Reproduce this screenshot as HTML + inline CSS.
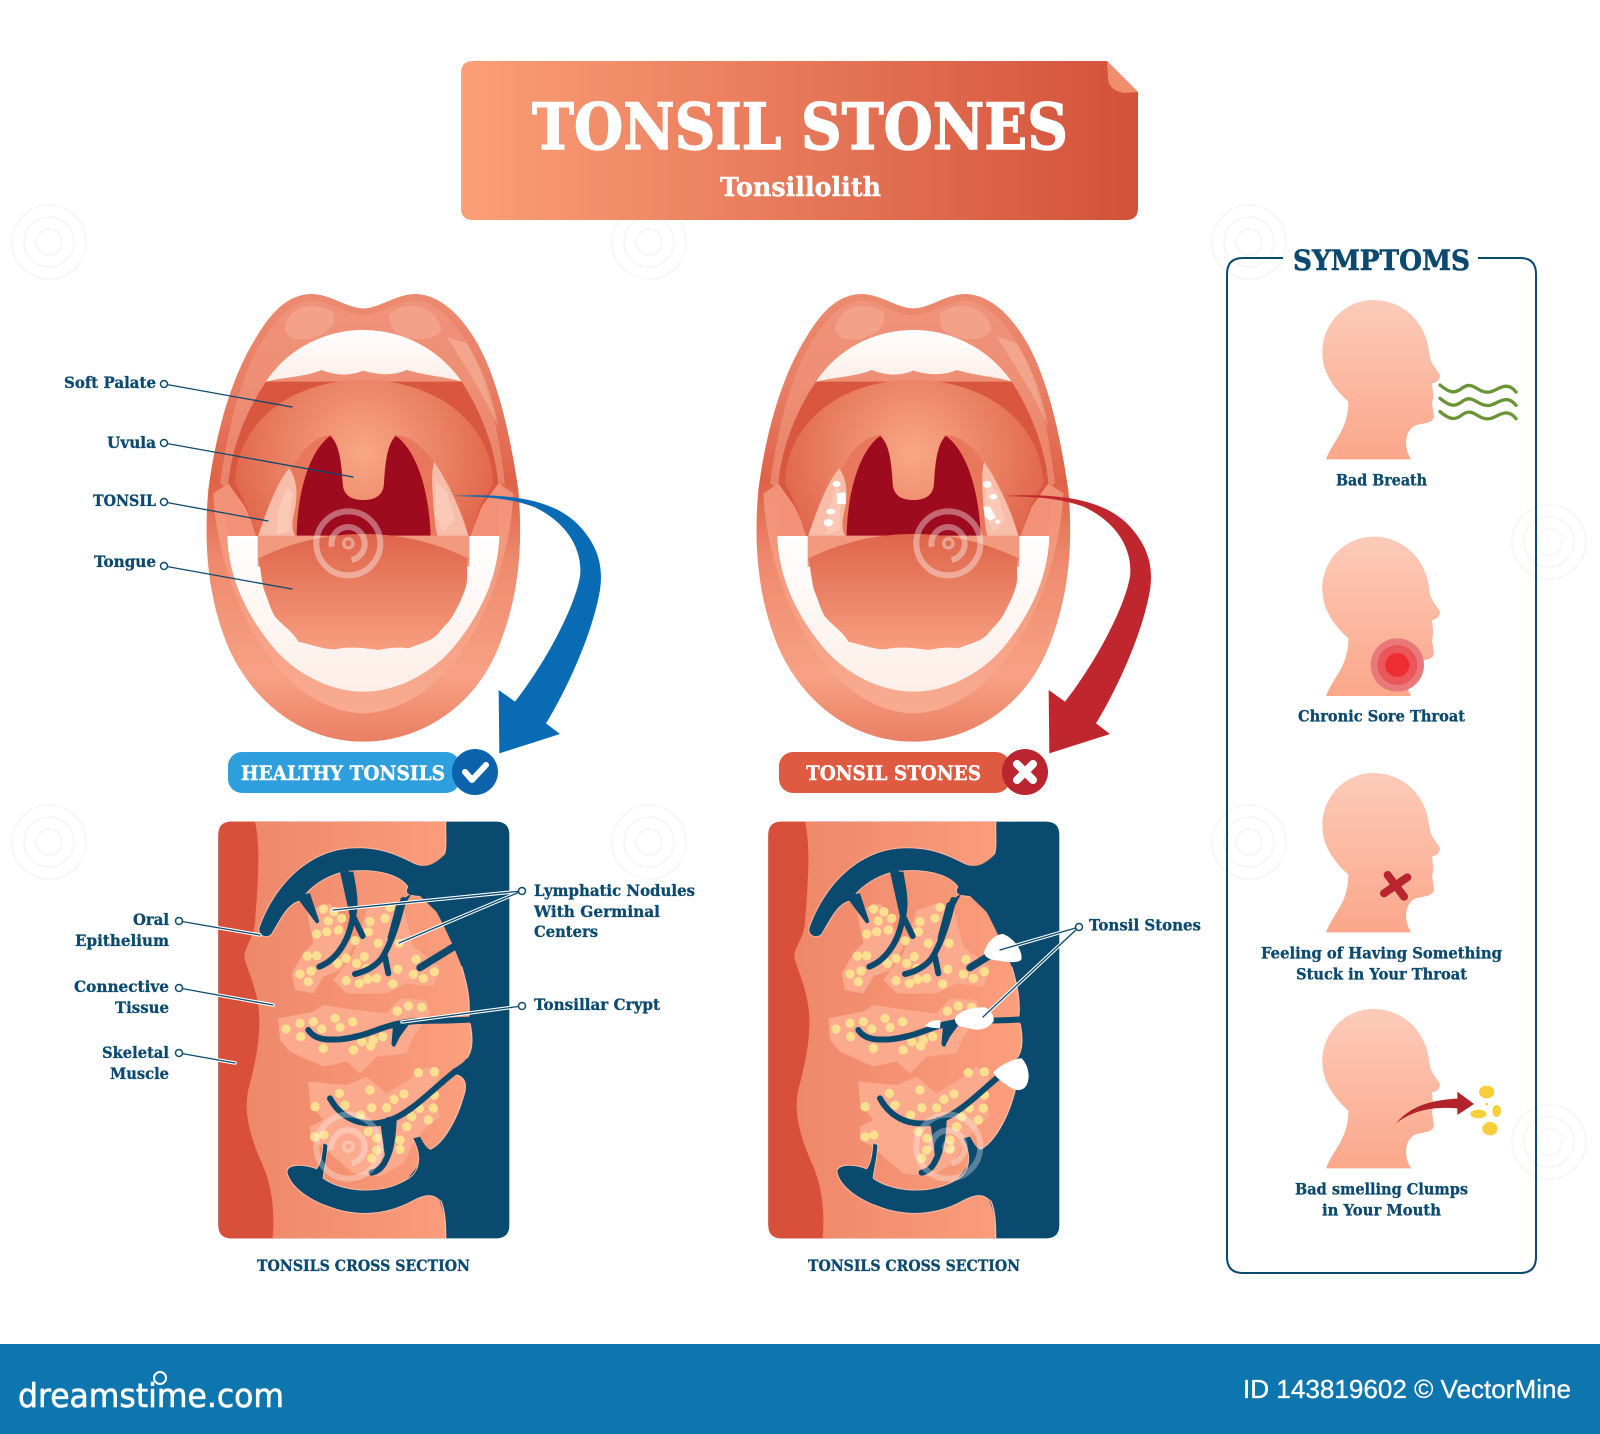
<!DOCTYPE html>
<html><head><meta charset="utf-8"><title>Tonsil Stones</title>
<style>html,body{margin:0;padding:0;background:#fff}svg{display:block}
text{font-family:"DejaVu Serif","Liberation Serif",serif;font-weight:700;fill:#0b4a6e}
.l{font-size:15.5px;stroke:#0b4a6e;stroke-width:.3px}</style></head><body>
<svg xmlns="http://www.w3.org/2000/svg" xmlns:xlink="http://www.w3.org/1999/xlink" width="1600" height="1434" viewBox="0 0 1600 1434">
<defs>
<linearGradient id="ban" x1="0" x2="1" y1="0" y2="0"><stop offset="0" stop-color="#fb9f78"/><stop offset="1" stop-color="#d2513a"/></linearGradient>
<linearGradient id="lip" x1="0" x2="0" y1="0" y2="1"><stop offset="0" stop-color="#ec8a70"/><stop offset=".2" stop-color="#e87f65"/><stop offset=".42" stop-color="#df6248"/><stop offset=".6" stop-color="#ee8a6e"/><stop offset=".85" stop-color="#f8a184"/><stop offset="1" stop-color="#e97f64"/></linearGradient>
<linearGradient id="lowlip" x1="0" x2="0" y1="0" y2="1"><stop offset="0" stop-color="#f09176"/><stop offset="1" stop-color="#f9ab90"/></linearGradient>
<radialGradient id="pal" gradientUnits="userSpaceOnUse" cx="520" cy="520" r="400"><stop offset="0" stop-color="#f8a886"/><stop offset="1" stop-color="#e1674c"/></radialGradient>
<linearGradient id="ton" x1="0" x2="0" y1="0" y2="1"><stop offset="0" stop-color="#de654b"/><stop offset="1" stop-color="#f79e7e"/></linearGradient>
<linearGradient id="tis" x1="0" x2="1" y1="0" y2="0"><stop offset="0" stop-color="#ec8567"/><stop offset="1" stop-color="#fb9f7d"/></linearGradient>
<linearGradient id="hd" x1="0" x2="0" y1="0" y2="1"><stop offset="0" stop-color="#fccbb9"/><stop offset="1" stop-color="#fba78a"/></linearGradient>
<linearGradient id="tth" x1="0" x2="0" y1="0" y2="1"><stop offset="0" stop-color="#fff"/><stop offset="1" stop-color="#fdeee8"/></linearGradient>

<g id="mouth">
<path fill="url(#lip)" d="M520 85C570 85 620 40 680 42C740 45 800 90 850 170C920 280 960 460 985 630C1000 800 985 950 930 1090C860 1280 690 1385 520 1385C350 1385 190 1280 110 1090C55 950 40 800 55 630C80 440 130 280 200 170C250 85 300 45 360 42C420 40 470 85 520 85Z"/>
<path fill="#f19a80" opacity=".6" d="M520 105C570 105 620 62 680 62C730 65 780 110 820 170C885 270 925 440 945 610L900 640L130 640L90 610C115 440 155 270 225 170C265 110 310 65 360 62C420 62 470 105 520 105Z"/>
<path fill="#f5ad95" opacity=".6" d="M285 150C290 90 350 55 430 95C440 130 420 155 380 170C340 185 300 185 285 150Z"/>
<path fill="#f5ad95" opacity=".6" d="M600 100C660 55 740 80 755 150C730 185 680 180 640 170C610 160 595 130 600 100Z"/>
<path fill="#f7b9a3" opacity=".5" d="M770 170L830 190C875 260 905 340 925 440C880 340 820 250 770 170Z"/>
<path fill="url(#lowlip)" d="M70 640C80 900 240 1290 520 1300C800 1290 960 900 970 640L925 610L115 610Z"/>
<path fill="#d9573f" d="M228 305H815C870 390 915 500 925 610L900 700L860 770H200L150 700L115 610C125 500 170 390 228 305Z"/>
<path fill="#f29078" d="M115 610L165 680L205 770H112Z"/>
<path fill="#f29078" d="M925 610L875 680L840 770H928Z"/>
<path fill="url(#pal)" d="M135 610C140 430 300 300 520 300C740 300 905 430 910 610L870 680L840 775H200L170 680Z"/>
<path fill="#e8775b" d="M205 775C240 680 270 600 310 560C340 500 385 465 425 465L430 480C350 520 320 660 320 775Z"/>
<path fill="#e8775b" d="M835 775C810 700 780 620 730 545C700 500 660 465 612 465L610 480C690 520 720 660 722 775Z"/>
<path fill="#f8bda9" d="M203 772C230 690 265 600 298 565C322 600 322 640 316 680C308 720 300 745 320 775Z"/>
<path fill="#f8bda9" d="M837 775C815 690 770 600 732 545C722 590 728 630 730 680C735 720 735 750 745 775Z"/>
<path fill="#fcd3c5" opacity=".55" d="M265 690L290 620L310 640L298 700L300 750L260 765Z M738 600L772 640L795 720L760 755L735 700Z"/>
<path fill="#9e0a1e" d="M320 775C320 660 350 520 420 468C450 490 455 560 458 610C460 650 490 660 520 660C550 660 580 650 582 610C585 560 590 490 618 468C690 520 720 660 722 775Z"/>
<path fill="url(#tth)" d="M112 768H205L840 768H928C925 880 880 990 800 1090C730 1180 620 1235 520 1235C420 1235 310 1180 240 1090C160 990 115 880 112 768Z"/>
<path fill="#f19a7f" d="M203 767H838V860H203Z"/>
<path fill="url(#ton)" d="M205 835C300 790 400 762 520 762C640 762 740 790 835 835C825 870 838 890 826 925C815 960 800 985 790 1005C775 1030 760 1040 745 1060C725 1085 690 1090 655 1105C620 1100 590 1105 565 1110C530 1105 490 1100 450 1105C415 1115 370 1095 325 1085C305 1050 280 1040 255 1010C240 985 235 960 222 930C212 890 212 860 205 835Z"/>
<path fill="url(#tth)" d="M228 305C290 210 400 150 520 150C640 150 750 210 815 305C770 290 720 290 650 270C610 288 560 285 520 272C480 288 440 288 395 270C350 290 290 290 228 305Z"/>
</g>

<path id="arrow" d="M790 648C930 640 1090 650 1170 740C1225 800 1240 860 1230 930C1208 1060 1130 1230 1068 1330L1110 1362L928 1420L926 1230L975 1265C1050 1170 1150 1000 1170 890C1180 800 1120 720 1030 680C950 650 860 650 790 648Z"/>

<g id="sect">
<path fill="#0b4a6f" d="M95 35H888Q928 35 928 75V1245Q928 1285 888 1285H95Q55 1285 55 1245V75Q55 35 95 35Z"/>
<path fill="url(#tis)" d="M95 35H737C735 90 745 130 720 155L660 220C700 280 760 400 785 470C800 520 812 570 806 622L810 640C818 680 820 720 800 745C790 760 770 770 755 780L770 795C800 805 800 830 790 860C770 930 730 1000 690 1018L660 1060L620 1110L680 1140C715 1150 737 1190 737 1285H95Q55 1285 55 1245V75Q55 35 95 35Z"/>
<path fill="none" stroke="#fbb9a2" stroke-width="4" d="M737 35C735 90 745 130 720 155M785 470C800 520 812 570 806 622M810 640C818 680 820 720 800 745M770 795C800 805 800 830 790 860C770 930 730 1000 690 1018M722 1172C735 1200 737 1240 737 1285"/>
<g fill="#fbaa8e">
<path d="M320 300L390 280L420 320L440 380L460 410L420 480L370 500L340 550L285 540L275 490L310 430L340 400Z"/>
<path d="M460 430L500 300L560 280L610 290L640 410L720 470L700 530L620 520L560 550L440 550L400 510Z"/>
<path d="M235 625L340 605L370 585L470 600L560 610L600 565L680 570L690 610L640 680L620 730L530 740L480 790L440 755L370 770L270 725L240 690Z"/>
<path d="M325 815L440 825L500 800L560 850L640 800L680 770L720 790L700 860L720 920L680 950L640 1000L610 1060L540 1100L460 1090L400 1040L370 1010L330 990L330 950L370 930L330 880Z"/>
</g>
<path fill="#d9503a" d="M95 35H165C185 120 170 260 165 340C160 390 125 420 135 450C150 500 180 560 178 640C178 700 165 760 150 820C125 900 150 980 190 1070C215 1130 225 1200 218 1285H95Q55 1285 55 1245V75Q55 35 95 35Z"/>
<path fill="none" stroke="#fde08f" stroke-width="28" stroke-linecap="round" d="M370 297h.1M402 305h.1M425 325h.1M385 333h.1M415 360h.1M380 365h.1M350 372h.1M465 392h.1M510 335h.1M505 365h.1M555 325h.1M570 292h.1M535 400h.1M597 400h.1M322 438h.1M350 437h.1M300 492h.1M333 483h.1M325 515h.1M412 460h.1M438 445h.1M493 440h.1M470 460h.1M500 475h.1M438 512h.1M478 520h.1M503 508h.1M530 505h.1M578 522h.1M593 478h.1M648 448h.1M640 493h.1M670 505h.1M703 485h.1M258 657h.1M300 640h.1M340 635h.1M302 680h.1M365 657h.1M405 625h.1M420 652h.1M458 635h.1M370 715h.1M460 720h.1M485 695h.1M512 708h.1M548 680h.1M520 690h.1M592 603h.1M625 588h.1M665 592h.1M655 788h.1M703 785h.1M510 840h.1M418 850h.1M345 890h.1M435 885h.1M515 893h.1M560 893h.1M582 868h.1M612 852h.1M703 855h.1M658 895h.1M700 895h.1M635 920h.1M685 930h.1M620 950h.1M482 915h.1M600 990h.1M600 1018h.1M345 980h.1M372 975h.1M505 965h.1M530 985h.1M530 1020h.1M515 1045h.1"/>
<path fill="none" stroke="#fbb9a2" stroke-width="6" d="M720 155C700 175 670 175 640 160C590 135 540 112 460 115C340 118 230 210 178 355C175 380 205 385 215 370C240 330 260 280 300 272C340 210 420 180 455 182C520 175 600 190 625 230C612 255 630 255 660 258"/>
<path fill="none" stroke="#fbb9a2" stroke-width="6" d="M640 985C670 1040 660 1090 620 1110C540 1160 420 1145 368 1105C370 1080 380 1050 382 1005L370 1000C368 1030 365 1060 350 1078C320 1065 265 1060 262 1085C270 1130 330 1170 390 1190C470 1220 560 1215 640 1170C680 1150 700 1150 722 1172"/>
<g fill="#0b4a6f">
<path d="M178 355C230 210 340 118 460 115C540 112 590 135 640 160C670 175 700 170 737 130V330L730 325L660 258C630 255 612 255 625 230C600 190 520 175 455 182C420 180 340 210 300 272C260 280 240 330 215 370C205 385 175 380 178 355Z"/>
<path d="M262 1085C265 1060 320 1065 350 1078C365 1060 368 1030 370 1000L382 1005C380 1050 370 1080 368 1105C420 1145 540 1160 620 1110C660 1090 670 1040 640 985L660 980C670 1000 680 1015 692 1020L800 1000V1100L722 1172C700 1150 680 1150 640 1170C560 1215 470 1220 390 1190C330 1170 270 1130 262 1085Z"/>
<path d="M285 255L330 250L358 335Q350 345 345 335Z"/>
<path d="M420 185L460 185C470 240 478 280 468 320L450 320Z"/>
<path d="M590 280L635 250C610 290 590 340 580 390L562 385Z"/>
<path d="M580 635L640 625L600 680L585 710Q572 710 575 695Z"/>
<path d="M540 930L590 915C590 960 585 1000 575 1030L555 1040Z"/>
</g>
<g fill="none" stroke="#0b4a6f" stroke-linecap="round" stroke-linejoin="round" stroke-width="18">
<path d="M440 190C455 240 465 280 460 310C450 390 410 450 358 470"/>
<path d="M460 320L488 378"/>
<path d="M610 270C595 330 575 400 545 445C525 470 495 485 465 492"/>
<path d="M555 440L565 490"/>
<path d="M770 405L660 473" stroke-width="22"/>
<path d="M815 628C720 635 650 628 600 640C540 650 500 680 420 688C380 690 345 690 325 660"/>
<path d="M765 785C720 820 680 860 640 890C600 920 570 935 530 940C470 945 420 920 390 865"/>
<path d="M565 930C585 960 575 1020 555 1055C545 1075 530 1085 515 1088"/>
</g>
</g>

<g id="head"><path fill="url(#hd)" d="M318 658C340 600 385 570 385 485C335 440 306 390 307 335C308 250 375 180 460 180C545 180 610 240 625 320C628 345 630 360 640 375L660 405C660 420 650 428 636 430L640 470L636 490L642 530C640 548 615 550 590 555C560 565 545 610 573 658Z"/></g>
<g id="sp" fill="none" stroke="#fff"><circle r="96" stroke-width="18"/><path stroke-width="18" d="M-50 10A50 50 0 1 1 10 50"/><circle r="14" stroke-width="10"/></g>
<g id="fsp" fill="none" stroke="#f5f5f5" stroke-width="1.5"><circle r="37"/><circle r="25"/><circle r="13"/></g>
</defs>

<rect width="1600" height="1434" fill="#fff"/>
<g><use xlink:href="#fsp" x="49" y="242"/><use xlink:href="#fsp" x="649" y="242"/><use xlink:href="#fsp" x="1249" y="242"/><use xlink:href="#fsp" x="49" y="842"/><use xlink:href="#fsp" x="649" y="842"/><use xlink:href="#fsp" x="1249" y="842"/><use xlink:href="#fsp" x="1549" y="542"/><use xlink:href="#fsp" x="1549" y="1142"/></g>

<!-- banner -->
<path fill="url(#ban)" d="M473 61H1107L1138 92V208Q1138 220 1126 220H473Q461 220 461 208V73Q461 61 473 61Z"/>
<path fill="#f08d6d" d="M1107 61L1138 92L1124 93Q1108 90 1108 78Z"/>
<text x="532" y="149" font-size="64" style="fill:#fff;stroke:#fff;stroke-width:1.4px" textLength="536" lengthAdjust="spacingAndGlyphs">TONSIL STONES</text>
<text x="720" y="196" font-size="26" style="fill:#fff;stroke:#fff;stroke-width:.4px" textLength="161" lengthAdjust="spacingAndGlyphs">Tonsillolith</text>

<!-- mouths -->
<g transform="translate(190 280) scale(.33333)"><use xlink:href="#mouth"/><use xlink:href="#sp" x="475" y="790" opacity=".38"/><use xlink:href="#arrow" fill="#0a6bb5"/></g>
<g transform="translate(740 280) scale(.33333)"><use xlink:href="#mouth"/>
<g fill="#fff"><ellipse cx="290" cy="612" rx="12" ry="9"/><path d="M290 640L316 637L318 672L292 672Z"/><ellipse cx="272" cy="695" rx="14" ry="8"/><ellipse cx="265" cy="728" rx="14" ry="11"/><ellipse cx="742" cy="613" rx="13" ry="10"/><ellipse cx="760" cy="650" rx="12" ry="8"/><path d="M730 680L750 680L768 712L752 722L735 712Z"/><ellipse cx="773" cy="725" rx="7" ry="6"/></g>
<use xlink:href="#sp" x="625" y="790" opacity=".38"/><use xlink:href="#arrow" fill="#c0262e"/></g>

<!-- badges -->
<rect x="228" y="752" width="232" height="41" rx="14" fill="#2e9fdc"/>
<circle cx="475" cy="772" r="23" fill="#0c62ab"/>
<path d="M465 772L472 780L486 765" fill="none" stroke="#fff" stroke-width="6" stroke-linecap="round" stroke-linejoin="round"/>
<text x="241" y="780" font-size="20" style="fill:#fff;stroke:#fff;stroke-width:.4px" textLength="204" lengthAdjust="spacingAndGlyphs">HEALTHY TONSILS</text>
<rect x="779" y="752" width="231" height="41" rx="14" fill="#de5a40"/>
<circle cx="1025" cy="772" r="23" fill="#bb2530"/>
<path d="M1017 764L1033 780M1033 764L1017 780" fill="none" stroke="#fff" stroke-width="8" stroke-linecap="round"/>
<text x="806" y="780" font-size="20" style="fill:#fff;stroke:#fff;stroke-width:.4px" textLength="175" lengthAdjust="spacingAndGlyphs">TONSIL STONES</text>

<!-- sections -->
<g transform="translate(200 810) scale(.33333)"><use xlink:href="#sect"/><use xlink:href="#sp" x="445" y="1010" opacity=".3"/></g>
<g transform="translate(750 810) scale(.33333)"><use xlink:href="#sect"/>
<g fill="#fff"><path d="M702 428C710 395 740 370 760 372C790 385 815 415 815 445C812 460 780 458 745 452C725 450 705 445 702 428Z"/><path d="M615 625C625 600 680 590 705 592C725 600 735 625 730 635C715 655 690 665 660 655C635 650 615 650 615 625Z"/><path d="M525 648C535 635 555 628 572 632L570 655C555 655 535 652 525 648Z"/><path d="M730 788C750 765 790 745 815 745C835 765 842 800 830 825C815 850 790 840 770 825C755 815 735 800 730 788Z"/></g>
<use xlink:href="#sp" x="595" y="1010" opacity=".3"/></g>

<!-- leaders -->
<g fill="none" stroke-linecap="round">
<g stroke="#fff" stroke-width="3.5">
<path d="M179 921L260 935M179 988L273 1005M179 1053L235 1063"/>
<path d="M522 891L333 910M522 891L399 943M522 1006L402 1022"/>
<path d="M1079 927L1000 950M1079 927L983 1017"/>
</g>
<g stroke="#0b4a6e" stroke-width="1.3">
<path d="M164 384L292 407M164 443L353 477M164 502L268 521M164 566L292 589"/>
<path d="M179 921L260 935M179 988L273 1005M179 1053L235 1063"/>
<path d="M522 891L333 910M522 891L399 943M522 1006L402 1022"/>
<path d="M1079 927L1000 950M1079 927L983 1017"/>
</g>
<g fill="#fff" stroke="#0b4a6e" stroke-width="1.5">
<circle cx="164" cy="384" r="3.5"/><circle cx="164" cy="443" r="3.5"/><circle cx="164" cy="502" r="3.5"/><circle cx="164" cy="566" r="3.5"/>
<circle cx="179" cy="921" r="3.5"/><circle cx="179" cy="988" r="3.5"/><circle cx="179" cy="1053" r="3.5"/>
<circle cx="522" cy="891" r="3.5"/><circle cx="522" cy="1006" r="3.5"/><circle cx="1079" cy="927" r="3.5"/>
</g></g>

<!-- labels -->
<g transform="translate(0 -.8)">
<text class="l" x="64" y="389" textLength="92" lengthAdjust="spacingAndGlyphs">Soft Palate</text>
<text class="l" x="107" y="449" textLength="49" lengthAdjust="spacingAndGlyphs">Uvula</text>
<text class="l" x="93" y="507" textLength="63" lengthAdjust="spacingAndGlyphs">TONSIL</text>
<text class="l" x="94" y="568" textLength="62" lengthAdjust="spacingAndGlyphs">Tongue</text>
<text class="l" x="133" y="926" textLength="36" lengthAdjust="spacingAndGlyphs">Oral</text>
<text class="l" x="75" y="947" textLength="94" lengthAdjust="spacingAndGlyphs">Epithelium</text>
<text class="l" x="74" y="993" textLength="95" lengthAdjust="spacingAndGlyphs">Connective</text>
<text class="l" x="115" y="1014" textLength="54" lengthAdjust="spacingAndGlyphs">Tissue</text>
<text class="l" x="102" y="1059" textLength="67" lengthAdjust="spacingAndGlyphs">Skeletal</text>
<text class="l" x="110" y="1080" textLength="59" lengthAdjust="spacingAndGlyphs">Muscle</text>
<text class="l" x="534" y="897" textLength="161" lengthAdjust="spacingAndGlyphs">Lymphatic Nodules</text>
<text class="l" x="534" y="918" textLength="126" lengthAdjust="spacingAndGlyphs">With Germinal</text>
<text class="l" x="534" y="938" textLength="64" lengthAdjust="spacingAndGlyphs">Centers</text>
<text class="l" x="534" y="1011" textLength="126" lengthAdjust="spacingAndGlyphs">Tonsillar Crypt</text>
<text class="l" x="1089" y="931.5" textLength="112" lengthAdjust="spacingAndGlyphs">Tonsil Stones</text>
<text class="l" x="257" y="1272" textLength="213" lengthAdjust="spacingAndGlyphs">TONSILS CROSS SECTION</text>
<text class="l" x="808" y="1272" textLength="212" lengthAdjust="spacingAndGlyphs">TONSILS CROSS SECTION</text>
</g>

<!-- symptoms -->
<path fill="none" stroke="#0b4a6e" stroke-width="2" d="M1283 258H1243Q1227 258 1227 274V1257Q1227 1273 1243 1273H1520Q1536 1273 1536 1257V274Q1536 258 1520 258H1478"/>
<text x="1293" y="270" font-size="28" style="stroke:#0b4a6e;stroke-width:.6px" textLength="177" lengthAdjust="spacingAndGlyphs">SYMPTOMS</text>
<g transform="translate(1220 240) scale(.33333)">
<use xlink:href="#head"/><use xlink:href="#head" y="710"/><use xlink:href="#head" y="1419"/><use xlink:href="#head" y="2127"/>
<g fill="none" stroke="#6a9436" stroke-width="10" stroke-linecap="round"><path d="M660 435C690 460 705 462 730 442C760 422 775 462 810 456C835 450 860 420 888 456"/><path d="M660 475C690 500 705 502 730 482C760 462 775 502 810 496C835 490 860 460 888 496"/><path d="M660 515C690 540 705 542 730 522C760 502 775 542 810 536C835 530 860 500 888 536"/></g>
<circle cx="532" cy="1275" r="80" fill="#e8787a"/><circle cx="532" cy="1275" r="60" fill="#ea565a"/><circle cx="532" cy="1275" r="36" fill="#ee2d33"/>
<path d="M503 345L552 410M562 352L492 400" transform="translate(0 1560)" fill="none" stroke="#b9252f" stroke-width="24" stroke-linecap="round"/>
<g transform="translate(0 1560)"><path fill="#b3242a" d="M528 1090C570 1040 630 1020 712 1016L712 995L762 1032L712 1065L712 1045C640 1040 580 1050 528 1090Z"/>
<g fill="#f6cf3a"><ellipse cx="800" cy="996" rx="23" ry="19"/><ellipse cx="775" cy="1062" rx="24" ry="13"/><ellipse cx="830" cy="1053" rx="13" ry="18"/><ellipse cx="810" cy="1106" rx="23" ry="20"/><circle cx="800" cy="1032" r="4"/></g></g>
</g>
<g transform="translate(0 -.7)">
<text class="l" x="1336" y="486" textLength="91" lengthAdjust="spacingAndGlyphs">Bad Breath</text>
<text class="l" x="1298" y="722" textLength="167" lengthAdjust="spacingAndGlyphs">Chronic Sore Throat</text>
<text class="l" x="1261" y="959" textLength="241" lengthAdjust="spacingAndGlyphs">Feeling of Having Something</text>
<text class="l" x="1296" y="980" textLength="171" lengthAdjust="spacingAndGlyphs">Stuck in Your Throat</text>
<text class="l" x="1295" y="1195" textLength="173" lengthAdjust="spacingAndGlyphs">Bad smelling Clumps</text>
<text class="l" x="1322" y="1216" textLength="119" lengthAdjust="spacingAndGlyphs">in Your Mouth</text>
</g>

<!-- bottom bar -->
<rect x="0" y="1344" width="1600" height="90" fill="#0e76ae"/>
<text x="18" y="1407" font-size="33" textLength="266" lengthAdjust="spacingAndGlyphs" style="fill:#fff;stroke:#fff;stroke-width:.6px;font-family:'DejaVu Sans','Liberation Sans',sans-serif;font-weight:400">dreamstime.com</text>
<circle cx="160" cy="1378" r="6" fill="none" stroke="#fff" stroke-width="2"/>
<text x="1243" y="1398" font-size="26" textLength="328" lengthAdjust="spacingAndGlyphs" style="fill:#fff;stroke:#fff;stroke-width:.3px;font-family:'Liberation Sans',sans-serif;font-weight:400">ID 143819602 © VectorMine</text>
</svg>
</body></html>
